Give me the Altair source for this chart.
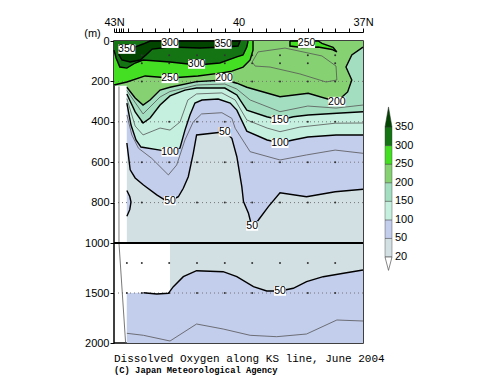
import altair as alt
import pandas as pd

# ---------------- values (latitude °N, depth m) ----------------
# section outline
sec_lat_n, sec_lat_s, sec_lat_deep, shelf_depth = 43.0, 37.0, 42.69, 220
gap_lat, gap_top, gap_bot, max_depth = 41.65, 1000, 1500, 2000

c50_lat = [42.69, 42.61, 42.49, 42.29, 41.97, 41.77, 41.65, 41.45, 41.33, 41.21, 41.09, 41.01, 40.53,
           40.33, 40.16, 40.04, 39.92, 39.88, 39.76, 39.67, 39.52, 39.28, 39.0, 38.36, 37.67, 37.0]
c50_dep = [505, 638, 678, 713, 762, 787, 792, 771, 729, 672, 556, 465, 454,
           449, 482, 573, 721, 795, 853, 925, 886, 820, 751, 771, 746, 734]
c50b_lat = [42.69, 42.62, 42.59, 42.62, 42.69]
c50b_dep = [740, 770, 797, 835, 868]
c50l_lat = [42.29, 41.97, 41.69, 41.57, 41.33, 41.01, 40.37, 40.04, 39.64, 39.32, 39.0, 38.68, 38.36, 37.96, 37.47, 37.0]
c50l_dep = [1497, 1510, 1503, 1437, 1337, 1277, 1287, 1337, 1437, 1480, 1480, 1453, 1387, 1337, 1303, 1270]
c75_lat = [42.69, 42.57, 42.41, 42.09, 41.69, 41.49, 41.29, 41.09, 40.89, 40.40, 40.16, 40.08, 39.72, 39.0, 38.36, 37.67, 37.0]
c75_dep = [366, 465, 531, 581, 663, 614, 490, 400, 361, 355, 383, 432, 548, 589, 564, 540, 556]
c75l_lat = [42.69, 42.29, 41.65, 41.01, 40.37, 39.72, 39.08, 38.36, 37.63, 37.0]
c75l_dep = [1903, 1923, 1980, 1810, 1860, 1923, 1937, 1910, 1770, 1780]
c100_lat = [42.69, 42.59, 42.47, 42.35, 41.89, 41.65, 41.41, 41.29, 41.17, 41.05, 40.88, 40.49, 40.20,
            40.04, 39.80, 39.31, 39.0, 38.69, 38.33, 37.65, 37.0]
c100_dep = [307, 416, 490, 525, 540, 549, 530, 441, 366, 307, 292, 287, 307,
            342, 446, 490, 505, 490, 475, 465, 465]
c125_lat = [42.69, 42.49, 42.30, 41.89, 41.65, 41.41, 41.22, 41.01, 40.40, 40.08, 39.80, 39.31, 39.0, 38.52, 37.67, 37.0]
c125_dep = [285, 421, 465, 431, 441, 401, 292, 262, 257, 292, 391, 431, 449, 426, 407, 406]
c150_lat = [42.69, 42.49, 42.30, 42.13, 41.89, 41.65, 41.29, 41.01, 40.33, 40.04, 39.80, 39.32, 39.0, 38.68, 38.32, 37.63, 37.0]
c150_dep = [262, 351, 406, 381, 317, 272, 243, 233, 233, 267, 342, 375, 391, 375, 366, 358, 350]
c175_lat = [42.69, 42.30, 41.89, 41.65, 41.01, 40.33, 40.04, 39.72, 39.0, 38.33, 37.65, 37.0]
c175_dep = [245, 361, 277, 250, 218, 213, 238, 292, 350, 322, 332, 317]
c200_lat = [42.69, 42.49, 42.30, 42.13, 41.89, 41.65, 41.01, 40.33, 40.04, 39.80, 39.0, 38.32, 37.63,
            37.37, 37.27, 37.41, 37.27, 37.0]
c200_dep = [229, 282, 317, 292, 243, 229, 201, 193, 209, 229, 276, 259, 300,
            252, 193, 129, 69, 30]
c225_lat = [39.67, 39.53, 38.88, 37.99, 37.65, 37.63, 37.89, 38.52, 39.24, 39.60, 39.67]
c225_dep = [104, 54, 35, 74, 124, 193, 203, 163, 129, 124, 104]
c250_lat = [43.0, 42.69, 42.25, 41.65, 40.98, 40.40, 40.16, 39.89, 39.72, 39.65, 39.65]
c250_dep = [218, 203, 173, 183, 173, 158, 149, 129, 94, 45, 0]
lens250_lat = [38.76, 38.76, 38.47, 38.08, 37.75, 37.63, 37.72, 37.99, 38.08, 38.76]
lens250_dep = [0, 25, 32, 30, 42, 54, 32, 12, 0, 0]
c300_lat = [43.0, 42.95, 42.86, 42.69, 42.49, 42.30, 41.65, 41.0, 40.45, 40.04, 39.89, 39.80, 39.77]
c300_dep = [45, 84, 129, 134, 109, 94, 104, 119, 109, 79, 69, 30, 0]
c350_lat = [42.85, 42.69, 42.50, 42.30, 42.13, 39.96, 40.01, 40.33, 40.93, 41.65, 42.08, 42.23, 42.37, 42.61, 42.81, 42.88, 42.85]
c350_dep = [45, 40, 30, 15, 0, 0, 25, 30, 35, 30, 40, 69, 94, 104, 94, 69, 45]
topo_lat = [42.88, 42.88, 42.72]
topo_dep = [225, 1000, 2000]

# contour labels
lab_text = ["350", "300", "350", "300", "250", "200", "250", "200", "150", "100", "100", "50", "50", "50", "50"]
lab_lat = [42.69, 41.65, 40.37, 41.01, 41.65, 40.35, 38.36, 37.63, 39.0, 39.0, 41.65, 40.33, 41.65, 39.67, 39.0]
lab_dep = [40, 11, 15, 114, 185, 182, 11, 300, 391, 506, 549, 449, 790, 916, 1480]

# observation stations / standard depths (dots)
stn_lat = [42.33, 41.67, 41.0, 40.33, 39.67, 39.0, 38.33, 37.67]
dot_dep_upper = [70, 110, 200, 400, 600, 800]
dot_dep_lower = [1200, 1500]
grid_dep = [200, 400, 600, 800, 1500]
tick_lats = [43.0, 42.94, 42.88, 42.83, 42.78, 42.67, 42.33, 42.0, 41.67, 41.33, 41.0, 40.67, 40.33,
             40.0, 39.67, 39.33, 39.0, 38.67, 38.33, 38.0, 37.67, 37.33, 37.0]
depth_ticks = [0, 200, 400, 600, 800, 1000, 1500, 2000]

# colour bar
leg_vals = [20, 50, 100, 150, 200, 250, 300, 350]
band_cols = ["#d2dfe3", "#c3cdec", "#c5f0df", "#a4dec0", "#86d172", "#44df22", "#147414"]
top_col = "#014501"

# ---------------- build tables ----------------
def tab(name, lats, deps):
    return pd.DataFrame({"name": name, "i": range(len(lats)), "lat": lats, "depth": deps})

top_left = ([sec_lat_s, sec_lat_n, sec_lat_n, sec_lat_deep], [0, 0, shelf_depth, shelf_depth])

polys = [
    ("base", band_cols[0],
     [sec_lat_n, sec_lat_s, sec_lat_s, sec_lat_deep, sec_lat_deep, gap_lat, gap_lat, sec_lat_deep, sec_lat_deep, sec_lat_n],
     [0, 0, max_depth, max_depth, gap_bot, gap_bot, gap_top, gap_top, shelf_depth, shelf_depth]),
    ("p50", band_cols[1], c50_lat + top_left[0], c50_dep + top_left[1]),
    ("p50b", band_cols[1], c50b_lat, c50b_dep),
    ("p50l", band_cols[1], [sec_lat_deep] + c50l_lat + [sec_lat_s, sec_lat_deep],
     [gap_bot] + c50l_dep + [max_depth, max_depth]),
    ("p100", band_cols[2], c100_lat + top_left[0], c100_dep + top_left[1]),
    ("p150", band_cols[3], c150_lat + top_left[0], c150_dep + top_left[1]),
    ("p200", band_cols[4], c200_lat + top_left[0], c200_dep + top_left[1]),
    ("lens", band_cols[5], lens250_lat, lens250_dep),
    ("p250", band_cols[5], c250_lat + [sec_lat_n], c250_dep + [0]),
    ("p300", band_cols[6], c300_lat + [sec_lat_n], c300_dep + [0]),
    ("p350", top_col, c350_lat, c350_dep),
]

thick = pd.concat([tab(n, a, b) for n, a, b in [
    ("50", c50_lat, c50_dep), ("50b", c50b_lat, c50b_dep), ("50l", c50l_lat, c50l_dep),
    ("100", c100_lat, c100_dep), ("150", c150_lat, c150_dep), ("200", c200_lat, c200_dep),
    ("250", c250_lat, c250_dep), ("lens", lens250_lat, lens250_dep), ("300", c300_lat, c300_dep),
    ("350", c350_lat, c350_dep)]])
thin = pd.concat([tab(n, a, b) for n, a, b in [
    ("75", c75_lat, c75_dep), ("75l", c75l_lat, c75l_dep), ("125", c125_lat, c125_dep),
    ("175", c175_lat, c175_dep), ("225", c225_lat, c225_dep), ("topo", topo_lat, topo_dep)]])

labels = pd.DataFrame({"t": lab_text, "lat": lab_lat, "depth": lab_dep})
labels["n"] = labels["t"].str.len()

dots = pd.DataFrame([{"lat": la, "depth": d} for d in dot_dep_upper for la in stn_lat] +
                    [{"lat": la, "depth": d} for d in dot_dep_lower for la in [sec_lat_deep] + stn_lat])
grid = pd.DataFrame({"depth": grid_dep})

# ---------------- encodings ----------------
FONT = "Liberation Sans"
lab_expr = ("abs(datum.value-43)<0.01 ? '43N' : abs(datum.value-40)<0.01 ? '40' : "
            "abs(datum.value-37)<0.01 ? '37N' : ''")
X = alt.X("lat:Q", scale=alt.Scale(domain=[43, 37], nice=False, zero=False),
          axis=alt.Axis(orient="top", values=tick_lats, labelExpr=lab_expr, title=None, offset=9,
                        tickSize=4, labelPadding=1, grid=False, domainColor="black", tickColor="black",
                        labelFont=FONT, labelFontSize=11, labelColor="black", labelOverlap=False,
                        labelFlush=False))
Y = alt.Y("depth:Q", scale=alt.Scale(domain=[0, 1000, 2000], range=[0, 202, 302], nice=False, zero=False),
          axis=alt.Axis(values=depth_ticks, format="d", title="(m)", titleAngle=0, titleX=-22, titleY=-8,
                        titleAlign="center", titleBaseline="middle", titleFont=FONT, titleFontSize=11,
                        titleFontWeight="normal", titleColor="black", domain=False, tickSize=4,
                        labelPadding=1, grid=False, tickColor="black", labelFont=FONT, labelFontSize=11,
                        labelColor="black", labelOverlap=False, labelFlush=False))

layers = []
for name, col, la, de in polys:
    layers.append(alt.Chart(tab(name, la, de)).mark_line(filled=True, color=col, strokeWidth=0)
                  .encode(x=X, y=Y, order="i:Q"))
layers.append(alt.Chart(grid).mark_rule(color="#777777", strokeDash=[1, 3], strokeWidth=1).encode(y=Y))
layers.append(alt.Chart(dots).mark_circle(size=4, color="#333333", opacity=1).encode(x=X, y=Y))
layers.append(alt.Chart(thin).mark_line(color="#555555", strokeWidth=0.8)
              .encode(x=X, y=Y, detail="name:N", order="i:Q"))
layers.append(alt.Chart(thick).mark_line(color="black", strokeWidth=1.4)
              .encode(x=X, y=Y, detail="name:N", order="i:Q"))
layers.append(alt.Chart(pd.DataFrame({"depth": [gap_top]})).mark_rule(color="black", strokeWidth=2)
              .encode(y=Y))
for n, path in [(3, "M-1.7,-0.95H1.7V0.95H-1.7Z"), (2, "M-1.2,-0.95H1.2V0.95H-1.2Z")]:
    layers.append(alt.Chart(labels[labels["n"] == n]).mark_point(shape=path, size=100, filled=True,
                  color="white", opacity=1, strokeWidth=0).encode(x=X, y=Y))
layers.append(alt.Chart(labels).mark_text(font=FONT, fontSize=10.5, color="black")
              .encode(x=X, y=Y, text="t:N"))
main = alt.layer(*layers)

# ---------------- colour bar ----------------
LX = alt.Scale(domain=[0, 1], range=[271, 278])
LY = alt.Scale(domain=[0, 7], range=[216, 86])
boxes = pd.DataFrame({"x0": 0, "x1": 1, "y0": list(range(7)), "y1": list(range(1, 8)), "col": band_cols})
tris = pd.DataFrame({"tri": ["top"] * 4 + ["bot"] * 4, "i": list(range(4)) * 2,
                     "x": [0, 1, 0.5, 0] * 2, "y": [7, 7, 8.08, 7, 0, 0, -0.72, 0]})
legl = pd.DataFrame({"x": 1, "y": list(range(8)), "t": [str(v) for v in leg_vals]})
leg = alt.layer(
    alt.Chart(boxes).mark_rect(stroke="#333333", strokeWidth=0.4).encode(
        x=alt.X("x0:Q", scale=LX, axis=None), x2="x1:Q",
        y=alt.Y("y0:Q", scale=LY, axis=None), y2="y1:Q",
        color=alt.Color("col:N", scale=None)),
    alt.Chart(tris[tris.tri == "top"]).mark_line(filled=True, color=top_col, stroke="#333333", strokeWidth=0.5)
    .encode(x=alt.X("x:Q", scale=LX, axis=None), y=alt.Y("y:Q", scale=LY, axis=None), order="i:Q"),
    alt.Chart(tris[tris.tri == "bot"]).mark_line(filled=True, color="white", stroke="#555555", strokeWidth=0.7)
    .encode(x=alt.X("x:Q", scale=LX, axis=None), y=alt.Y("y:Q", scale=LY, axis=None), order="i:Q"),
    alt.Chart(legl).mark_text(font=FONT, fontSize=11, align="left", baseline="middle", dx=3, color="black")
    .encode(x=alt.X("x:Q", scale=LX, axis=None), y=alt.Y("y:Q", scale=LY, axis=None), text="t:N"),
)

chart = (alt.layer(main, leg)
         .resolve_scale(x="independent", y="independent")
         .properties(width=249, height=302, autosize="none",
                     padding={"left": 106, "top": 33, "right": 129, "bottom": 36},
                     title=alt.TitleParams(text="Dissolved Oxygen along KS line, June 2004",
                                           subtitle="(C) Japan Meteorological Agency",
                                           orient="bottom", anchor="start", frame="group", offset=5,
                                           font="Liberation Mono", fontSize=11, fontWeight="normal",
                                           color="black", subtitleFont="Liberation Mono",
                                           subtitleFontSize=8.8, subtitleFontWeight="bold",
                                           subtitleColor="black", subtitlePadding=2))
         .configure_view(stroke="black", strokeWidth=1.5))

chart.save("out.html", embed_options={"renderer": "svg", "actions": False})
